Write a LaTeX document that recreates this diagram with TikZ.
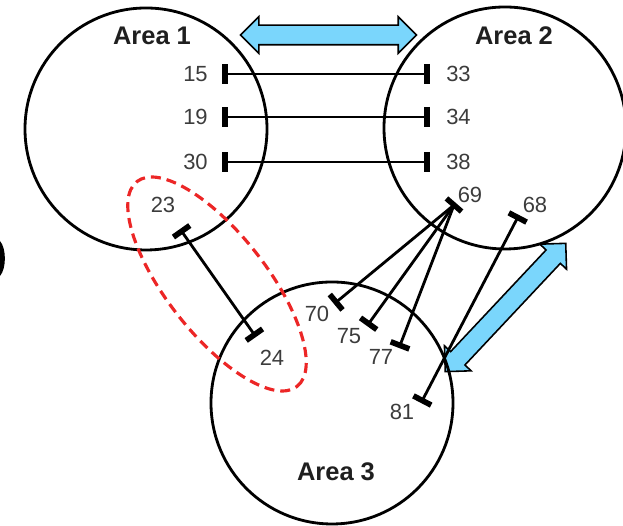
\documentclass[tikz,border=0pt]{standalone}
\usepackage{fontspec}
\setmainfont{Liberation Sans}
\usetikzlibrary{arrows.meta,shapes.arrows}
\definecolor{linkblue}{RGB}{122,214,252}
\definecolor{numgray}{RGB}{60,60,60}
\definecolor{groupred}{RGB}{236,38,38}

\begin{document}
\begin{tikzpicture}[
  area/.style={draw,line width=1.6pt,circle,minimum size=4.84cm,inner sep=0pt},
  arealabel/.style={font=\fontsize{14.5}{16}\selectfont\bfseries,text=black!88},
  num/.style={font=\fontsize{12.5}{14}\selectfont,text=numgray,inner sep=1pt},
  tie/.style={line width=1.6pt,{Bar[width=0.4cm,line width=3.2pt]}-{Bar[width=0.4cm,line width=3.2pt]}},
  tieone/.style={line width=1.6pt,-{Bar[width=0.4cm,line width=3.2pt]}},
  flow/.style={double arrow,draw,fill=linkblue,line width=0.9pt,minimum height=3.52cm,
    minimum width=0.7cm,double arrow head extend=0.17cm,inner xsep=0pt,inner ysep=0.18cm}]
\useasboundingbox (0,0) rectangle (12.46,10.52);

% exchange arrows between areas
\node[flow] (x12) at (6.57,9.82) {};
\node[flow,rotate=46.8] (x23) at (10.11,4.37) {};

% areas
\node[area] (a1) at (2.92,7.94) {};
\node[area] (a2) at (10.10,7.96) {};
\node[area] (a3) at (6.64,2.46) {};
\node[arealabel] (l1) at (3.04,9.80) {Area 1};
\node[arealabel] (l2) at (10.28,9.80) {Area 2};
\node[arealabel] (l3) at (6.72,1.08) {Area 3};

% tie-line ends
\coordinate (t15) at (4.44,9.04);  \coordinate (t33) at (8.60,9.04);
\coordinate (t19) at (4.44,8.18);  \coordinate (t34) at (8.60,8.18);
\coordinate (t30) at (4.44,7.28);  \coordinate (t38) at (8.60,7.28);
\coordinate (t23) at (3.60,5.94);  \coordinate (t24) at (5.12,3.78);
\coordinate (t70) at (6.68,4.44);  \coordinate (t75) at (7.34,4.00);
\coordinate (t77) at (7.98,3.56);  \coordinate (t81) at (8.42,2.46);
\coordinate (t68) at (10.38,6.22);
\node[fill,rectangle,minimum width=0.4cm,minimum height=0.11cm,inner sep=0pt,rotate=-41] (t69) at (9.08,6.42) {};

% tie lines
\draw[tie] (t15) -- (t33);
\draw[tie] (t19) -- (t34);
\draw[tie] (t30) -- (t38);
\draw[tie] (t23) -- (t24);
\draw[tie] (t68) -- (t81);
\foreach \b in {70,75,77}
  \draw[tieone] (t69.center) -- (t\b);

% bus numbers
\node[num] (n15) at (3.91,9.04) {15};
\node[num] (n19) at (3.91,8.18) {19};
\node[num] (n30) at (3.91,7.28) {30};
\node[num] (n33) at (9.17,9.04) {33};
\node[num] (n34) at (9.17,8.18) {34};
\node[num] (n38) at (9.17,7.28) {38};
\node[num] (n23) at (3.26,6.42) {23};
\node[num] (n24) at (5.44,3.36) {24};
\node[num] (n69) at (9.40,6.62) {69};
\node[num] (n68) at (10.70,6.42) {68};
\node[num] (n70) at (6.34,4.24) {70};
\node[num] (n75) at (6.98,3.80) {75};
\node[num] (n77) at (7.62,3.38) {77};
\node[num] (n81) at (8.04,2.28) {81};

% grouped tie line
\draw[groupred,line width=1.8pt,dash pattern=on 0.2cm off 0.12cm,rotate around={-52:(4.34,4.84)}]
  (4.34,4.84) ellipse (2.6 and 1.0);

% bracket cut at the left edge
\fill (0,5.70) .. controls (0.13,5.55) and (0.13,5.15) .. (0,5.00) -- cycle;
\end{tikzpicture}
\end{document}
